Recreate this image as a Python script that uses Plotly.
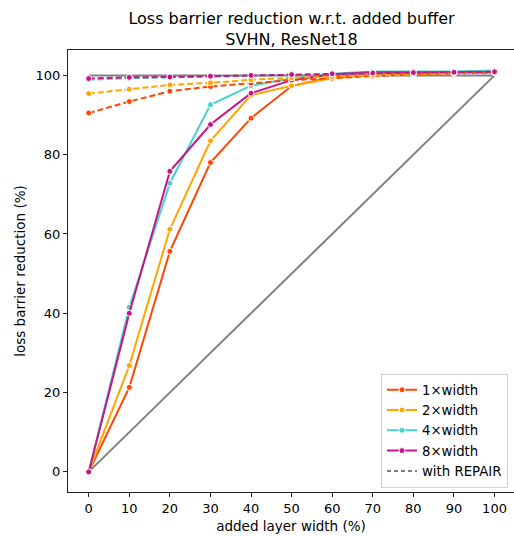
import plotly.graph_objects as go

# added layer width (%)
widths = [0, 10, 20, 30, 40, 50, 60, 70, 80, 90, 100]

# loss barrier reduction (%) without REPAIR
red_1x = [0, 21.3, 55.6, 78.0, 89.2, 97.3, 99.6, 100.2, 100.5, 100.6, 100.8]
red_2x = [0, 26.8, 61.2, 83.5, 95.0, 97.4, 99.3, 100.1, 100.5, 100.6, 100.8]
red_4x = [0, 41.5, 72.8, 92.6, 97.4, 99.3, 100.4, 101.0, 101.0, 101.0, 101.2]
red_8x = [0, 40.0, 75.8, 87.6, 95.5, 98.8, 100.3, 100.8, 100.8, 100.8, 100.9]

# loss barrier reduction (%) with REPAIR
rep_1x = [90.5, 93.4, 96.0, 97.2, 98.0, 98.8, 99.3, 99.8, 100.3, 100.5, 100.7]
rep_2x = [95.4, 96.5, 97.6, 98.1, 98.9, 99.4, 99.7, 100.0, 100.4, 100.6, 100.8]
rep_4x = [98.9, 99.3, 99.5, 99.7, 100.0, 100.2, 100.4, 100.6, 100.7, 100.8, 101.0]
rep_8x = [99.2, 99.5, 99.6, 99.8, 100.0, 100.2, 100.4, 100.6, 100.7, 100.8, 100.9]

labels = ["1×width", "2×width", "4×width", "8×width"]
colors = ["#FF4500", "#FFA500", "#48D1CC", "#C71585"]
plain = [red_1x, red_2x, red_4x, red_8x]
repair = [rep_1x, rep_2x, rep_4x, rep_8x]

ref_x = [0, 100]
ref_flat = [100, 100]
ref_diag = [0, 100]

fig = go.Figure()

# reference lines
fig.add_trace(go.Scatter(x=ref_x, y=ref_flat, mode="lines",
                         line=dict(color="gray", width=2), showlegend=False,
                         hoverinfo="skip"))
fig.add_trace(go.Scatter(x=ref_x, y=ref_diag, mode="lines",
                         line=dict(color="gray", width=2), showlegend=False,
                         hoverinfo="skip"))


def marker_style(c):
    return dict(color=c, size=6, line=dict(color="white", width=1))


for lab, col, ys in zip(labels, colors, plain):
    fig.add_trace(go.Scatter(x=widths, y=ys, mode="lines+markers", name=lab,
                             line=dict(color=col, width=2),
                             marker=marker_style(col)))
for col, ys in zip(colors, repair):
    fig.add_trace(go.Scatter(x=widths, y=ys, mode="lines+markers",
                             line=dict(color=col, width=2, dash="6px,3px"),
                             marker=marker_style(col), showlegend=False))

# legend entry for the REPAIR style
fig.add_trace(go.Scatter(x=[None], y=[None], mode="lines", name="with REPAIR",
                         line=dict(color="gray", width=2, dash="4px,3px")))

font = "DejaVu Sans"
fig.update_layout(
    width=514, height=536,
    margin=dict(l=68, r=0, t=50, b=44),
    paper_bgcolor="white", plot_bgcolor="white",
    font=dict(family=font, size=13, color="black"),
    title=dict(text="Loss barrier reduction w.r.t. added buffer<br>SVHN, ResNet18",
               x=(68 + 515) / 2 / 514, xanchor="center",
               yref="container", y=1 - 24 / 536, yanchor="bottom",
               font=dict(family=font, size=16, color="black")),
    legend=dict(x=0.9865, xanchor="right", y=0.01, yanchor="bottom",
                bgcolor="rgba(255,255,255,0.8)", bordercolor="#d0d0d0",
                borderwidth=1, font=dict(family=font, size=13.3),
                tracegroupgap=0, itemwidth=30),
    xaxis=dict(range=[-5.1, 104.8], tickvals=widths,
               showgrid=False, zeroline=False, showline=True, mirror=True,
               linecolor="#222", linewidth=1, ticks="outside", ticklen=4,
               tickcolor="#222",
               title=dict(text="added layer width (%)", standoff=6,
                          font=dict(family=font, size=13.5))),
    yaxis=dict(range=[-5.07, 106.4], tickvals=[0, 20, 40, 60, 80, 100],
               showgrid=False, zeroline=False, showline=True, mirror=False,
               linecolor="#222", linewidth=1, ticks="outside", ticklen=4,
               tickcolor="#222",
               title=dict(text="loss barrier reduction (%)", standoff=6,
                          font=dict(family=font, size=13.5))),
)

fig.write_html("out.html")
